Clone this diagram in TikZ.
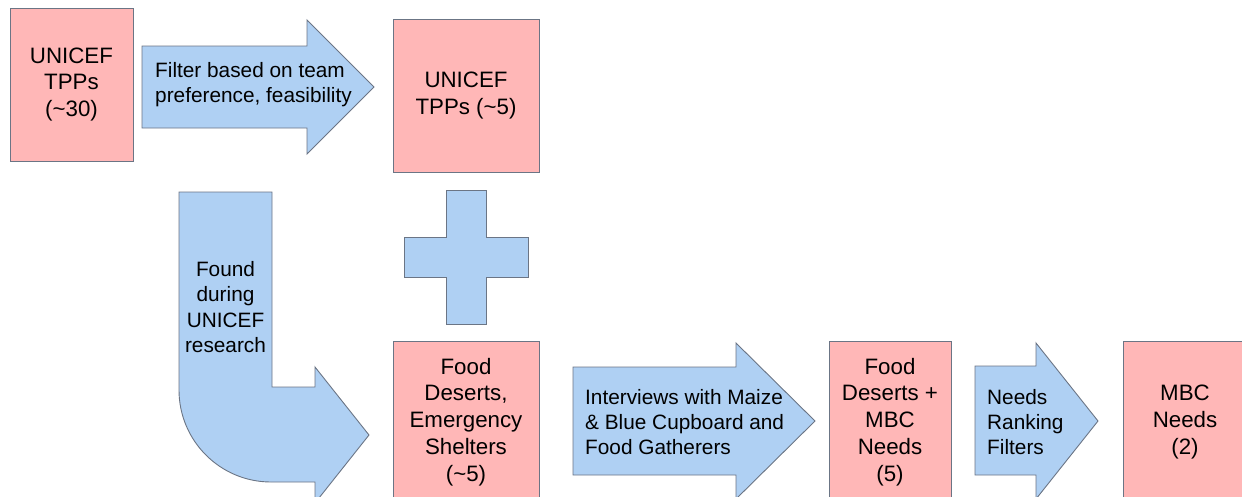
\documentclass[tikz,border=0pt]{standalone}
\usepackage{fontspec}
\setmainfont{Liberation Sans}
\definecolor{boxpink}{HTML}{FFB7B7}
\definecolor{arrowblue}{HTML}{AFD0F3}
\definecolor{edgegray}{HTML}{6B7585}
\tikzset{
  box/.style={draw=edgegray, fill=boxpink, line width=0.9pt, inner sep=0pt,
    align=center, font=\fontsize{22.3}{26.8}\selectfont},
  bigarrow/.style={draw=edgegray, fill=arrowblue, line width=0.9pt, line join=miter},
  arrowtext/.style={align=left, inner sep=0pt, font=\fontsize{20.8}{25.2}\selectfont}
}

\begin{document}
\begin{tikzpicture}[x=1pt, y=-1pt]
    \clip (0,0) rectangle (1242,496);

    % boxes
    \node[box, minimum width=123, minimum height=153] (tpp30) at (71.5,84.5) {UNICEF\\TPPs\\(\textasciitilde30)};
    \node[box, minimum width=146, minimum height=153] (tpp5) at (466,95.5) {UNICEF\\TPPs (\textasciitilde5)};
    \node[box, minimum width=146, minimum height=162] (deserts) at (466,422) {Food\\Deserts,\\Emergency\\Shelters\\(\textasciitilde5)};
    \node[box, minimum width=122, minimum height=162] (needs5) at (890,422) {Food\\Deserts +\\MBC\\Needs\\(5)};
    \node[box, minimum width=124, minimum height=162] (needs2) at (1185,422) {MBC\\Needs\\(2)};

    % block arrows
    \draw[bigarrow] (142,46) -- (307,46) -- (307,20) -- (374,87) -- (307,154) -- (307,128) -- (142,128) -- cycle;
    \node[arrowtext, anchor=west] (filter) at (155,85) {Filter based on team\\preference, feasibility};

    \draw[bigarrow] (179,192) -- (272,192) -- (272,387) -- (315,387) -- (315,367) -- (369,435)
        -- (315,503) -- (315,482) -- (271,482) .. controls (220.2,482) and (179,440.8) .. (179,390) -- cycle;
    \node[arrowtext, align=center] (found) at (225.5,307) {Found\\during\\UNICEF\\research};

    \draw[bigarrow] (446,190) -- (486,190) -- (486,237) -- (528,237) -- (528,277) -- (486,277)
        -- (486,324) -- (446,324) -- (446,277) -- (404,277) -- (404,237) -- (446,237) -- cycle;

    \draw[bigarrow] (573,367) -- (736,367) -- (736,343) -- (815,421) -- (736,499) -- (736,475) -- (573,475) -- cycle;
    \node[arrowtext, anchor=west] (interviews) at (585,422) {Interviews with Maize\\\& Blue Cupboard and\\Food Gatherers};

    \draw[bigarrow] (975,366) -- (1036,366) -- (1036,343) -- (1098,421) -- (1036,499) -- (1036,475) -- (975,475) -- cycle;
    \node[arrowtext, anchor=west] (ranking) at (987,422) {Needs\\Ranking\\Filters};
\end{tikzpicture}
\end{document}
